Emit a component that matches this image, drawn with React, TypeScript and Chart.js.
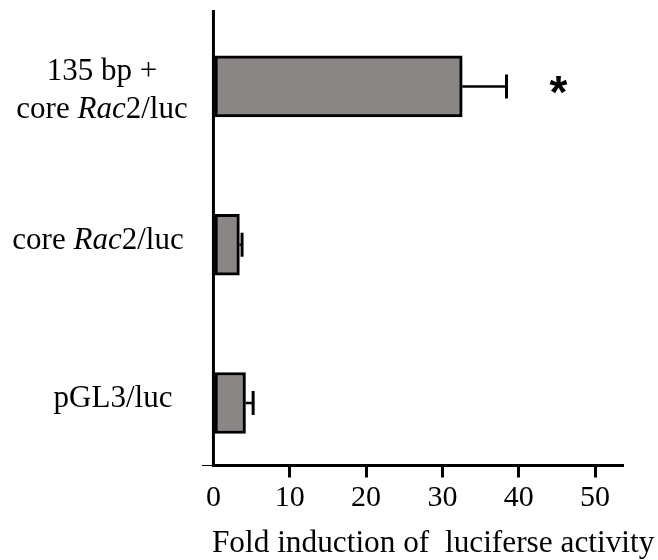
import React, { useEffect, useRef } from "react";
import { Chart, registerables } from "chart.js";

Chart.register(...registerables);

// ---- data (top to bottom) ----
const categories = ["135 bp +\ncore _Rac_2/luc", "core _Rac_2/luc", "pGL3/luc"];
const foldValues = [32.6, 3.4, 4.2];
const foldErrors = [5.8, 0.35, 1.0];
const significance = ["*", "", ""];
const xTicks = [0, 10, 20, 30, 40, 50];
const xTitle = "Fold induction of  luciferse activity";

// ---- layout / style constants ----
const W = 658;
const H = 560;
const X_MIN = -1.5;
const X_MAX = 53.8;
const Y_MIN = -0.395;
const Y_MAX = 2.483;
const LABEL_CX = [102, 98, 113];
const LABEL_FIRST_BASELINE_DY = [-6.5, 4.5, 4.3];
const LINE_H = 38;
const STAR_GAP = 6.8;
const SERIF = "'Liberation Serif', 'Times New Roman', serif";
const BAR_FILL = "#8a8685";

const positions = categories.map((_, i) => categories.length - 1 - i);

function parseLine(line: string): { text: string; italic: boolean }[] {
  return line.split("_").map((t, k) => ({ text: t, italic: k % 2 === 1 })).filter((s) => s.text.length > 0);
}

const overlayPlugin = {
  id: "overlay",
  afterDatasetsDraw(chart: any) {
    const ctx = chart.ctx as CanvasRenderingContext2D;
    const xs = chart.scales.x;
    const ys = chart.scales.y;
    const ca = chart.chartArea;
    const x0 = xs.getPixelForValue(0);
    ctx.save();
    ctx.strokeStyle = "#000";
    ctx.fillStyle = "#000";
    ctx.lineCap = "butt";

    // y axis line at x = 0
    ctx.lineWidth = 3;
    ctx.beginPath();
    ctx.moveTo(x0, ca.top);
    ctx.lineTo(x0, ca.bottom);
    ctx.stroke();

    // x axis line
    ctx.lineWidth = 1;
    ctx.beginPath();
    ctx.moveTo(ca.left, ca.bottom);
    ctx.lineTo(x0, ca.bottom);
    ctx.stroke();
    ctx.lineWidth = 3;
    ctx.beginPath();
    ctx.moveTo(x0 - 1.5, ca.bottom);
    ctx.lineTo(ca.right, ca.bottom);
    ctx.stroke();

    // error bars
    const meta = chart.getDatasetMeta(0);
    meta.data.forEach((bar: any, i: number) => {
      const y = bar.y;
      const xa = xs.getPixelForValue(foldValues[i]);
      const xb = xs.getPixelForValue(foldValues[i] + foldErrors[i]);
      ctx.lineWidth = 2.5;
      ctx.beginPath();
      ctx.moveTo(xa, y);
      ctx.lineTo(xb, y);
      ctx.stroke();
      ctx.lineWidth = 3;
      ctx.beginPath();
      ctx.moveTo(xb, y - 12);
      ctx.lineTo(xb, y + 12);
      ctx.stroke();

      if (significance[i]) {
        ctx.font = "bold 46px 'Liberation Sans', Arial, sans-serif";
        ctx.textAlign = "center";
        ctx.textBaseline = "alphabetic";
        const m = ctx.measureText(significance[i]);
        const sx = xs.getPixelForValue(foldValues[i] + foldErrors[i] + STAR_GAP);
        const sy = y - 1.5 + (m.actualBoundingBoxAscent - m.actualBoundingBoxDescent) / 2;
        ctx.fillText(significance[i], sx, sy);
      }
    });

    // category labels
    ctx.textBaseline = "alphabetic";
    ctx.textAlign = "left";
    categories.forEach((label, i) => {
      const cy = ys.getPixelForValue(positions[i]);
      const lines = label.split("\n");
      lines.forEach((line, li) => {
        const segs = parseLine(line);
        let total = 0;
        const widths = segs.map((s) => {
          ctx.font = (s.italic ? "italic " : "") + "31px " + SERIF;
          const w = ctx.measureText(s.text).width;
          total += w;
          return w;
        });
        let x = LABEL_CX[i] - total / 2;
        const by = cy + LABEL_FIRST_BASELINE_DY[i] + li * LINE_H;
        segs.forEach((s, k) => {
          ctx.font = (s.italic ? "italic " : "") + "31px " + SERIF;
          ctx.fillText(s.text, x, by);
          x += widths[k];
        });
      });
    });

    // x axis title
    ctx.font = "31.3px " + SERIF;
    ctx.textAlign = "left";
    ctx.fillText(xTitle, x0 - 1.5, ca.bottom + 86.5);
    ctx.restore();
  },
};

export default function App() {
  const ref = useRef<HTMLCanvasElement | null>(null);
  useEffect(() => {
    if (!ref.current) return;
    const chart = new Chart(ref.current, {
      type: "bar",
      data: {
        datasets: [
          {
            data: foldValues.map((v, i) => ({ x: v, y: positions[i] })),
            backgroundColor: BAR_FILL,
            borderColor: "#000",
            borderWidth: 3,
            borderSkipped: false,
            barThickness: 61,
          } as any,
        ],
      },
      options: {
        indexAxis: "y",
        responsive: false,
        animation: false,
        events: [],
        layout: { padding: { left: 202, right: 34, top: 10, bottom: 0 } },
        plugins: { legend: { display: false }, tooltip: { enabled: false } },
        scales: {
          x: {
            type: "linear",
            position: "bottom",
            min: X_MIN,
            max: X_MAX,
            offset: false,
            afterBuildTicks: (s: any) => {
              s.ticks = xTicks.map((v) => ({ value: v }));
            },
            afterFit: (s: any) => {
              s.height = H - 465.5;
            },
            border: { display: false },
            grid: {
              drawOnChartArea: false,
              drawTicks: true,
              tickLength: 12,
              lineWidth: 3,
              tickColor: (c: any) => (c.tick && c.tick.value === 0 ? "rgba(0,0,0,0)" : "#000"),
            },
            ticks: {
              color: "#000",
              padding: 3,
              maxRotation: 0,
              autoSkip: false,
              font: { family: SERIF, size: 30 },
              callback: (v: any) => String(v),
            },
          },
          y: {
            type: "linear",
            display: false,
            offset: false,
            min: Y_MIN,
            max: Y_MAX,
          },
        },
      },
      plugins: [overlayPlugin],
    });
    return () => chart.destroy();
  }, []);
  return (
    <div style={{ position: "fixed", left: 0, top: 0, width: W, height: H, background: "#fff" }}>
      <canvas ref={ref} width={W} height={H} style={{ display: "block", width: W, height: H }} />
    </div>
  );
}
